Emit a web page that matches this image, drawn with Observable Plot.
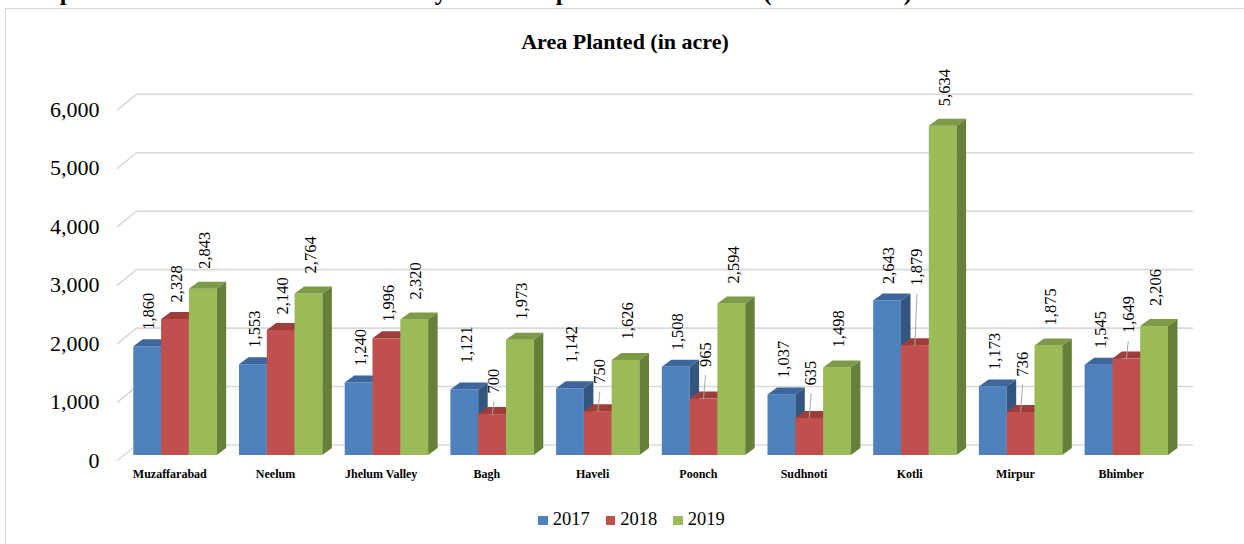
<!DOCTYPE html>
<html>
<head>
<meta charset="utf-8">
<script src="https://cdn.jsdelivr.net/npm/d3@7"></script>
<script src="https://cdn.jsdelivr.net/npm/@observablehq/plot@0.6"></script>
<style>
  html, body { margin: 0; padding: 0; background: #fff; overflow: hidden; }
  body { width: 1244px; height: 544px; position: relative; font-family: "Liberation Serif", "Times New Roman", serif; color: #000; }
  #heading { position: absolute; left: 17px; top: 0; white-space: nowrap; font-weight: bold; line-height: 1; }
  #frame { position: absolute; left: 5px; top: 8px; width: 1260px; height: 560px; border: 1.5px solid #d9d9d9; box-sizing: border-box; }
  #title { position: absolute; left: 0; width: 1250px; top: 31px; text-align: center; font-weight: bold; font-size: 22px; line-height: 22px; }
  #chart { position: absolute; left: 0; top: 0; }
  #legend { position: absolute; top: 509.5px; left: 0; width: 1263px; display: flex; justify-content: center; font-size: 18.5px; line-height: 18.5px; }
  #legend .item { display: flex; align-items: center; margin: 0 8px; }
  #legend .sw { width: 9.5px; height: 9.5px; margin-right: 5px; margin-top: 3px; }
</style>
</head>
<body>
<div id="heading">Graph: 6.5 District wise Area Planted by Forest Department in AJ&amp;K (2017 to 2019)</div>
<div id="frame"></div>
<div id="title">Area Planted (in acre)</div>
<div id="chart"></div>
<div id="legend"></div>
<script>
// ---------- data ----------
const districts = ["Muzaffarabad", "Neelum", "Jhelum Valley", "Bagh", "Haveli", "Poonch", "Sudhnoti", "Kotli", "Mirpur", "Bhimber"];
const years = ["2017", "2018", "2019"];
const v2017 = [1860, 1553, 1240, 1121, 1142, 1508, 1037, 2643, 1173, 1545];
const v2018 = [2328, 2140, 1996, 700, 750, 965, 635, 1879, 736, 1649];
const v2019 = [2843, 2764, 2320, 1973, 1626, 2594, 1498, 5634, 1875, 2206];
const yTicks = [0, 1000, 2000, 3000, 4000, 5000, 6000];

// ---------- style / layout (not data) ----------
const frontColors = ["#4f81bd", "#c0504d", "#9bbb59"];
const topColors   = ["#3d679c", "#9e3e3b", "#7d9a46"];
const sideColors  = ["#33567f", "#8a3432", "#66803a"];
// label lift above bar top (px), Excel-nudged labels
const labelGap2017 = [17, 17, 17, 26.7, 25.7, 17, 17, 17, 17, 17];
const labelGap2018 = [17, 16, 17, 21, 28, 32, 33, 60, 36, 26];
const labelGap2019 = [20.5, 20.5, 20.5, 20.5, 21, 20.5, 20.5, 20, 20.5, 20.5];

const series = [v2017, v2018, v2019];
const gaps = [labelGap2017, labelGap2018, labelGap2019];

const unitPx = 105.7;                 // px per district slot
const pxV = 6000 / (455 - 104.3);     // value units per px
const barW = 27.8 / unitPx;
const depX = 9.5 / unitPx;
const depY = 7 * pxV;
const floorX = (117 - 133.3) / unitPx;
const wallX = (136 - 133.3) / unitPx;
const wallEnd = (1192 - 133.3) / unitPx;
const fmt = d3.format(",");
const FONT = "Liberation Serif, Times New Roman, serif";

// heading size to match width
(function () {
  const h = document.getElementById("heading");
  const c = document.createElement("canvas").getContext("2d");
  c.font = "bold 100px 'Liberation Serif'";
  const w = c.measureText(h.textContent).width;
  const fs = 100 * 898 / w;
  h.style.fontSize = fs + "px";
  h.style.top = (2.5 - fs * 0.891) + "px";
})();

const marks = [];

// back wall gridlines with side-wall diagonal
const gridPts = yTicks.flatMap(t => [
  {t, x: floorX, y: t - 5 * pxV},
  {t, x: wallX, y: t + 10.5 * pxV},
  {t, x: wallEnd, y: t + 10.5 * pxV}
]);
marks.push(Plot.line(gridPts, {x: "x", y: "y", z: "t", stroke: "#d9d9d9", strokeWidth: 1.6}));

// y tick labels
marks.push(Plot.text(yTicks, {
  x: () => floorX, y: t => t - 5 * pxV, text: t => fmt(t),
  textAnchor: "end", dx: -18, fontSize: 22, fontFamily: FONT, fill: "#000"
}));

// bars
const allRows = [];
series.forEach((vals, s) => {
  const rows = vals.map((v, i) => ({
    i, s, v, gap: gaps[s][i],
    x0: i + s * barW, x1: i + (s + 1) * barW
  }));
  allRows.push(...rows);
  const topPts = rows.flatMap(r => [
    {i: r.i, x: r.x0, y1: r.v, y2: r.v},
    {i: r.i, x: r.x0 + depX, y1: r.v, y2: r.v + depY},
    {i: r.i, x: r.x1, y1: r.v, y2: r.v + depY},
    {i: r.i, x: r.x1 + depX, y1: r.v + depY, y2: r.v + depY}
  ]);
  const sidePts = rows.flatMap(r => [
    {i: r.i, x: r.x1, y1: 0, y2: r.v},
    {i: r.i, x: r.x1 + depX, y1: depY, y2: r.v + depY}
  ]);
  marks.push(Plot.rect(rows, {x1: "x0", x2: "x1", y1: () => 0, y2: "v", fill: frontColors[s]}));
  marks.push(Plot.areaY(topPts, {x: "x", y1: "y1", y2: "y2", z: "i", fill: topColors[s]}));
  marks.push(Plot.areaY(sidePts, {x: "x", y1: "y1", y2: "y2", z: "i", fill: sideColors[s]}));
});

// leader lines for nudged 2018 labels
const leaders = allRows.filter(r => r.s === 1 && r.gap > 20);
marks.push(Plot.link(leaders, {
  x1: r => (r.x0 + r.x1) / 2 + 1.5 / unitPx, y1: r => r.v + (r.gap - 8) * pxV,
  x2: r => (r.x0 + r.x1) / 2 - 0.5 / unitPx, y2: r => r.v,
  stroke: "#a6a6a6", strokeWidth: 1
}));

// data labels
marks.push(Plot.text(allRows, {
  x: r => (r.x0 + r.x1) / 2, y: r => r.v + r.gap * pxV, text: r => fmt(r.v),
  rotate: -90, textAnchor: "start", lineAnchor: "middle", dx: 1.5,
  fontSize: 16.5, fontFamily: FONT, fill: "#000"
}));

// district labels
marks.push(Plot.text(districts, {
  x: (d, i) => i + 36 / unitPx, y: () => 0, dy: 18.5, text: d => d,
  fontSize: 12, fontWeight: "bold", fontFamily: FONT, fill: "#000"
}));

const chart = Plot.plot({
  width: 1244,
  height: 490,
  x: {type: "linear", domain: [0, 10], range: [133.3, 133.3 + 10 * unitPx], axis: null},
  y: {type: "linear", domain: [0, 6000], range: [455, 104.3], axis: null},
  style: {background: "transparent", overflow: "visible", fontFamily: FONT},
  marks
});
document.getElementById("chart").appendChild(chart);

// legend
const lg = document.getElementById("legend");
years.forEach((y, s) => {
  const it = document.createElement("div");
  it.className = "item";
  const sw = document.createElement("span");
  sw.className = "sw";
  sw.style.background = frontColors[s];
  const tx = document.createElement("span");
  tx.textContent = y;
  it.appendChild(sw); it.appendChild(tx);
  lg.appendChild(it);
});
</script>
</body>
</html>
